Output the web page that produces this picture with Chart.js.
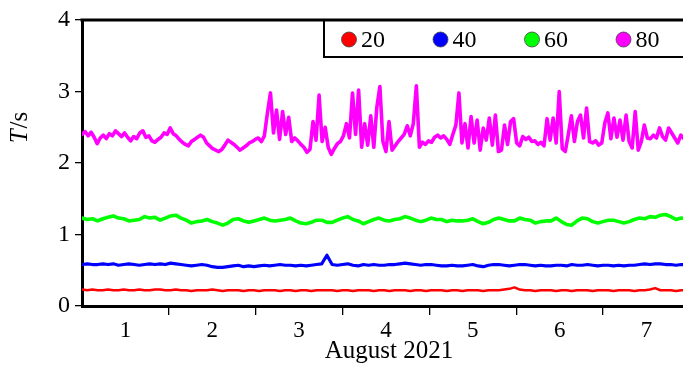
<!DOCTYPE html>
<html lang="en">
<head>
    <meta charset="UTF-8">
    <title>T/s August 2021</title>
    <script src="https://cdn.jsdelivr.net/npm/chart.js"></script>
    <style>
        body { margin: 0; background: #fff; }
        #wrap { width: 683px; height: 365px; overflow: hidden; }
        canvas { display: block; }
    </style>
</head>
<body>
    <div id="wrap"><canvas id="tChart" width="696" height="365"></canvas></div>

    <script>
        // days since 1 Aug 2021 00:00, sampled every STEP days
        const STEP_80 = 0.035;
        const STEP_LOW = 0.06;
        const dayLabels = ['1', '2', '3', '4', '5', '6', '7'];
        const seriesNames = ['20', '40', '60', '80'];

        const t80 = [
            2.40, 2.44, 2.38, 2.43, 2.36, 2.27, 2.35, 2.39, 2.34, 2.41,
            2.38, 2.45, 2.41, 2.37, 2.42, 2.36, 2.31, 2.37, 2.34, 2.42,
            2.45, 2.36, 2.38, 2.31, 2.29, 2.33, 2.36, 2.42, 2.40, 2.49,
            2.41, 2.38, 2.33, 2.29, 2.26, 2.24, 2.30, 2.33, 2.36, 2.39,
            2.36, 2.28, 2.24, 2.20, 2.18, 2.16, 2.19, 2.25, 2.32, 2.29,
            2.26, 2.22, 2.18, 2.21, 2.24, 2.28, 2.30, 2.33, 2.35, 2.30,
            2.38, 2.70, 2.98, 2.42, 2.74, 2.33, 2.72, 2.40, 2.64, 2.30,
            2.35, 2.31, 2.26, 2.22, 2.15, 2.19, 2.58, 2.32, 2.95, 2.30,
            2.50, 2.22, 2.12, 2.20, 2.27, 2.30, 2.38, 2.55, 2.35, 2.98,
            2.40, 3.02, 2.22, 2.55, 2.25, 2.66, 2.22, 2.78, 3.07, 2.30,
            2.16, 2.58, 2.18, 2.24, 2.30, 2.35, 2.40, 2.52, 2.38, 2.55,
            3.08, 2.22, 2.29, 2.26, 2.31, 2.29, 2.36, 2.39, 2.35, 2.38,
            2.33, 2.26, 2.40, 2.53, 2.98, 2.28, 2.55, 2.21, 2.65, 2.28,
            2.60, 2.18, 2.49, 2.32, 2.63, 2.25, 2.67, 2.16, 2.18, 2.53,
            2.26, 2.58, 2.62, 2.28, 2.24, 2.37, 2.33, 2.36, 2.30, 2.31,
            2.26, 2.29, 2.24, 2.62, 2.32, 2.63, 2.28, 3.00, 2.20, 2.16,
            2.40, 2.66, 2.30, 2.58, 2.67, 2.35, 2.77, 2.30, 2.28, 2.31,
            2.25, 2.28, 2.56, 2.70, 2.34, 2.63, 2.36, 2.60, 2.32, 2.67,
            2.30, 2.21, 2.72, 2.18, 2.30, 2.53, 2.35, 2.34, 2.39, 2.35,
            2.49, 2.37, 2.32, 2.49, 2.42, 2.35, 2.28, 2.39, 2.34, 2.31,
            2.36, 2.30, 2.40, 2.33
        ];

        const t60 = [
            1.23, 1.21, 1.22, 1.19, 1.22, 1.24, 1.26, 1.23, 1.22, 1.19,
            1.20, 1.21, 1.25, 1.23, 1.24, 1.20, 1.23, 1.26, 1.27, 1.23,
            1.20, 1.16, 1.18, 1.19, 1.21, 1.18, 1.16, 1.13, 1.16, 1.21,
            1.22, 1.19, 1.17, 1.19, 1.21, 1.23, 1.20, 1.19, 1.20, 1.21,
            1.23, 1.19, 1.16, 1.15, 1.17, 1.20, 1.20, 1.17, 1.17, 1.20,
            1.23, 1.25, 1.21, 1.19, 1.15, 1.18, 1.21, 1.23, 1.20, 1.19,
            1.21, 1.22, 1.25, 1.23, 1.20, 1.18, 1.20, 1.23, 1.21, 1.21,
            1.18, 1.20, 1.19, 1.19, 1.20, 1.22, 1.18, 1.15, 1.17, 1.21,
            1.23, 1.21, 1.19, 1.19, 1.23, 1.21, 1.20, 1.16, 1.18, 1.19,
            1.19, 1.23, 1.18, 1.14, 1.13, 1.19, 1.23, 1.22, 1.18, 1.16,
            1.18, 1.20, 1.20, 1.18, 1.16, 1.18, 1.21, 1.23, 1.22, 1.25,
            1.24, 1.27, 1.28, 1.25, 1.21, 1.23, 1.22, 1.20, 1.22
        ];

        const t40 = [
            0.58, 0.59, 0.58, 0.58, 0.59, 0.58, 0.59, 0.57, 0.58, 0.59,
            0.58, 0.57, 0.58, 0.59, 0.58, 0.59, 0.58, 0.60, 0.59, 0.58,
            0.57, 0.56, 0.57, 0.58, 0.57, 0.55, 0.54, 0.54, 0.55, 0.56,
            0.57, 0.55, 0.56, 0.55, 0.56, 0.57, 0.56, 0.57, 0.58, 0.57,
            0.57, 0.56, 0.57, 0.56, 0.57, 0.58, 0.59, 0.71, 0.58, 0.57,
            0.58, 0.59, 0.57, 0.56, 0.58, 0.57, 0.58, 0.57, 0.57, 0.58,
            0.58, 0.59, 0.60, 0.59, 0.58, 0.57, 0.58, 0.58, 0.57, 0.56,
            0.56, 0.57, 0.56, 0.56, 0.57, 0.58, 0.56, 0.55, 0.57, 0.58,
            0.58, 0.57, 0.56, 0.57, 0.58, 0.58, 0.57, 0.56, 0.57, 0.56,
            0.56, 0.57, 0.57, 0.56, 0.58, 0.57, 0.57, 0.58, 0.57, 0.56,
            0.57, 0.57, 0.56, 0.57, 0.56, 0.57, 0.57, 0.58, 0.59, 0.58,
            0.59, 0.59, 0.58, 0.58, 0.57, 0.58, 0.58, 0.57, 0.58
        ];

        const t20 = [
            0.23, 0.22, 0.23, 0.22, 0.22, 0.23, 0.22, 0.22, 0.23, 0.22,
            0.22, 0.23, 0.22, 0.22, 0.23, 0.23, 0.22, 0.22, 0.23, 0.22,
            0.22, 0.21, 0.22, 0.22, 0.22, 0.23, 0.22, 0.21, 0.22, 0.22,
            0.22, 0.21, 0.22, 0.22, 0.21, 0.22, 0.22, 0.22, 0.21, 0.22,
            0.22, 0.21, 0.22, 0.22, 0.21, 0.22, 0.22, 0.22, 0.22, 0.21,
            0.22, 0.22, 0.21, 0.22, 0.22, 0.22, 0.21, 0.22, 0.22, 0.21,
            0.22, 0.22, 0.22, 0.21, 0.22, 0.22, 0.21, 0.22, 0.22, 0.22,
            0.21, 0.22, 0.22, 0.21, 0.22, 0.22, 0.22, 0.21, 0.22, 0.22,
            0.22, 0.23, 0.24, 0.26, 0.23, 0.22, 0.22, 0.21, 0.22, 0.22,
            0.22, 0.21, 0.22, 0.22, 0.21, 0.22, 0.22, 0.22, 0.21, 0.22,
            0.22, 0.22, 0.21, 0.22, 0.22, 0.22, 0.21, 0.22, 0.22, 0.23,
            0.25, 0.22, 0.22, 0.22, 0.21, 0.22, 0.22, 0.22, 0.22
        ];

        const SERIF = '"Liberation Serif", "DejaVu Serif", serif';

        // turn a sampled series into {x, y} points (x in days)
        function toPoints(values, step) {
            return values.map((v, i) => ({ x: i * step, y: v }));
        }

        function line(label, values, step, color, width) {
            return {
                label: label,
                data: toPoints(values, step),
                borderColor: color,
                backgroundColor: color,
                borderWidth: width,
                borderJoinStyle: 'round',
                borderCapStyle: 'round',
                pointRadius: 0,
                tension: 0,
                fill: false
            };
        }

        // frame top line, legend box and the y title
        const decorPlugin = {
            id: 'decor',
            afterDraw(chart) {
                const ctx = chart.ctx;
                const a = chart.chartArea;
                ctx.save();

                // legend box
                const boxL = 324, boxB = 57;
                ctx.fillStyle = '#fff';
                ctx.fillRect(boxL, a.top, a.right - boxL + 10, boxB - a.top);
                ctx.strokeStyle = '#000';
                ctx.lineWidth = 2;
                ctx.strokeRect(boxL, a.top, a.right - boxL + 10, boxB - a.top);

                // top frame line
                ctx.lineWidth = 3;
                ctx.beginPath();
                ctx.moveTo(a.left - 1.5, a.top);
                ctx.lineTo(a.right + 5, a.top);
                ctx.stroke();

                // legend entries
                const cy = (a.top + boxB) / 2 + 1;
                ctx.font = '24px ' + SERIF;
                ctx.textBaseline = 'middle';
                ctx.textAlign = 'left';
                chart.data.datasets.forEach((ds, i) => {
                    const cx = 349 + i * 91.5;
                    ctx.beginPath();
                    ctx.arc(cx, cy, 7.5, 0, Math.PI * 2);
                    ctx.fillStyle = ds.borderColor;
                    ctx.fill();
                    ctx.lineWidth = 0.8;
                    ctx.strokeStyle = '#444';
                    ctx.stroke();
                    ctx.fillStyle = '#000';
                    ctx.fillText(ds.label, cx + 12, cy + 1);
                });

                // y title: italic T, upright /s
                ctx.translate(20, 128);
                ctx.rotate(-Math.PI / 2);
                ctx.textBaseline = 'middle';
                const fT = 'italic 25px ' + SERIF;
                const fS = '25px ' + SERIF;
                ctx.font = fT;
                const wT = ctx.measureText('T').width;
                ctx.font = fS;
                const wS = ctx.measureText('/s').width;
                const x0 = -(wT + wS) / 2;
                ctx.font = fT;
                ctx.fillText('T', x0, 0);
                ctx.font = fS;
                ctx.fillText('/s', x0 + wT + 1, 0);

                ctx.restore();
            }
        };

        const ctx = document.getElementById('tChart').getContext('2d');
        new Chart(ctx, {
            type: 'line',
            data: {
                datasets: [
                    line(seriesNames[0], t20, STEP_LOW, '#ff0000', 2.5),
                    line(seriesNames[1], t40, STEP_LOW, '#0000ff', 3.2),
                    line(seriesNames[2], t60, STEP_LOW, '#00ff00', 3.6),
                    line(seriesNames[3], t80, STEP_80, '#ff00ff', 3.6)
                ]
            },
            options: {
                responsive: false,
                animation: false,
                layout: { padding: { top: 20, left: 0, right: 0, bottom: 0 } },
                plugins: {
                    legend: { display: false },
                    tooltip: { enabled: false }
                },
                scales: {
                    x: {
                        type: 'linear',
                        min: 0,
                        max: 7.07,
                        afterFit: s => { s.height = 59; },
                        afterBuildTicks: s => {
                            const ticks = [];
                            dayLabels.forEach((_, i) => {
                                ticks.push({ value: i + 0.5 });
                                ticks.push({ value: i + 1 });
                            });
                            s.ticks = ticks;
                        },
                        border: { display: true, color: '#000', width: 3 },
                        grid: {
                            drawOnChartArea: false,
                            drawTicks: true,
                            tickLength: 9,
                            lineWidth: 1.3,
                            color: c => (c.tick && Number.isInteger(c.tick.value)) ? '#000' : 'rgba(0,0,0,0)'
                        },
                        ticks: {
                            autoSkip: false,
                            maxRotation: 0,
                            padding: 2,
                            color: '#000',
                            font: { family: SERIF, size: 23 },
                            callback: v => Number.isInteger(v) ? '' : dayLabels[Math.floor(v)]
                        },
                        title: {
                            display: true,
                            text: 'August 2021',
                            color: '#000',
                            font: { family: SERIF, size: 25 },
                            padding: { top: 0, bottom: -1 }
                        }
                    },
                    y: {
                        min: 0,
                        max: 4,
                        afterFit: s => { s.width = 82; },
                        border: { display: true, color: '#000', width: 3 },
                        grid: {
                            drawOnChartArea: false,
                            drawTicks: true,
                            tickLength: 7,
                            lineWidth: 1.3,
                            color: '#000'
                        },
                        ticks: {
                            stepSize: 1,
                            padding: 5,
                            color: '#000',
                            font: { family: SERIF, size: 24 }
                        }
                    }
                }
            },
            plugins: [decorPlugin]
        });
    </script>
</body>
</html>
